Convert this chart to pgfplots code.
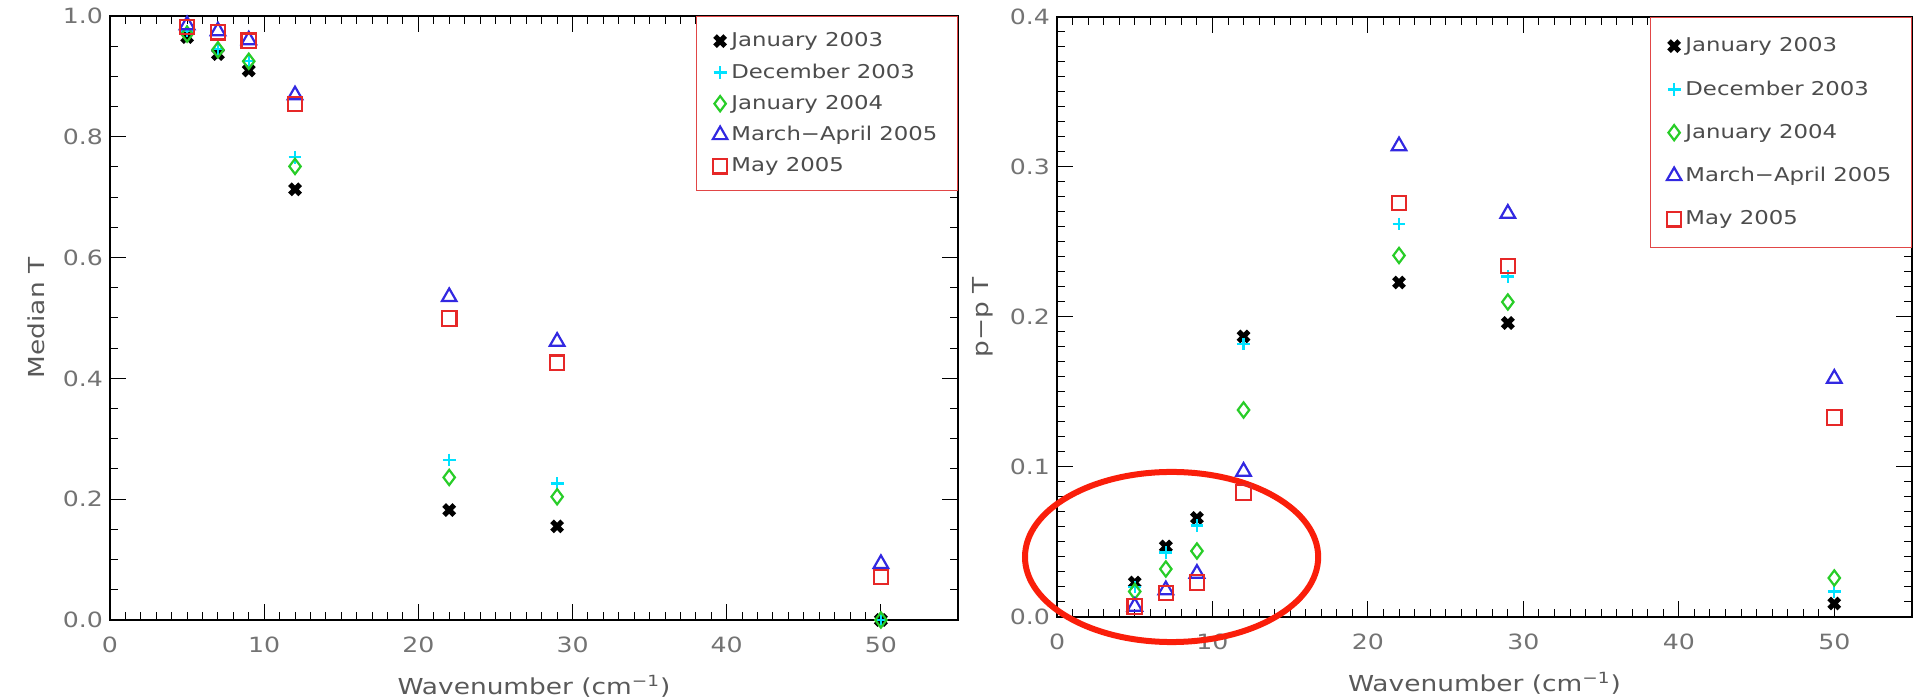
\documentclass[border=0pt]{standalone}
\usepackage{fontspec}
\setmainfont{DejaVu Sans}[FakeStretch=1.2]
\usepackage{pgfplots}
\usepackage{pgfplotstable}
\usetikzlibrary{calc}
\pgfplotsset{compat=1.18}
\definecolor{tick}{gray}{0.45}
\definecolor{lab}{gray}{0.35}
\definecolor{legt}{gray}{0.3}
\definecolor{cJa}{RGB}{0,0,0}
\definecolor{cDe}{RGB}{0,225,255}
\definecolor{cJb}{RGB}{40,205,40}
\definecolor{cMa}{RGB}{50,40,225}
\definecolor{cMy}{RGB}{230,40,40}
\definecolor{legbox}{RGB}{225,70,70}
\definecolor{ell}{RGB}{250,30,10}

\pgfplotstableread{
x  ja    de    jb    ma    my
5  0.965 0.975 0.970 0.985 0.982
7  0.937 0.945 0.944 0.975 0.973
9  0.910 0.925 0.925 0.960 0.959
12 0.713 0.766 0.751 0.869 0.854
22 0.182 0.265 0.236 0.535 0.499
29 0.155 0.226 0.204 0.461 0.426
50 0.000 0.000 0.000 0.093 0.071
}\median

\pgfplotstableread{
x  ja    de    jb    ma    my
5  0.023 0.020 0.017 0.007 0.007
7  0.047 0.043 0.032 0.018 0.016
9  0.066 0.061 0.044 0.029 0.023
12 0.187 0.182 0.138 0.097 0.083
22 0.223 0.262 0.241 0.314 0.276
29 0.196 0.227 0.210 0.269 0.234
50 0.009 0.017 0.026 0.159 0.133
}\pp

\begin{document}
\begin{tikzpicture}
\useasboundingbox (0,0) rectangle (957pt,349.5pt);
\pgfplotsset{
  common/.style={
    scale only axis,
    xmin=0, xmax=55,
    xtick={0,10,...,50},
    minor x tick num=9,
    tick align=inside,
    major tick length=8pt,
    minor tick length=4pt,
    axis line style={black, line width=0.6pt},
    tick style={black, line width=0.5pt},
    /pgf/number format/assume math mode=true,
    ticklabel style={font=\fontsize{10.5}{12}\selectfont, text=tick},
    xticklabel shift=5pt,
    label style={font=\fontsize{11}{13}\selectfont, text=lab},
    xlabel={Wavenumber (cm\textsuperscript{−1})},
    xlabel style={at={(axis description cs:0.5,0)}, anchor=north, yshift=-24pt},
    ylabel style={at={($(axis description cs:0,0.5)+(-37pt,0)$)}, anchor=center},
    only marks,
    clip=false,
    legend cell align=left,
    legend style={font=\fontsize{9.5}{11}\selectfont, text=legt, draw=legbox, line width=0.6pt,
      at={(1,1)}, anchor=north east, inner xsep=8pt, inner ysep=6pt, fill=white},
    yticklabel style={/pgf/number format/.cd, fixed, fixed zerofill, precision=1},
  },
  sJa/.style={mark=x, color=cJa, mark size=3.6pt, mark options={line width=2.6pt}},
  sDe/.style={mark=+, color=cDe, mark size=3.2pt, mark options={line width=1.1pt}},
  sJb/.style={mark=diamond, color=cJb, mark size=3.8pt, mark options={line width=1.1pt}},
  sMa/.style={mark=triangle, color=cMa, mark size=4.2pt, mark options={line width=1.1pt}},
  sMy/.style={mark=square, color=cMy, mark size=3.6pt, mark options={line width=1.1pt}},
}
\begin{axis}[common,
  at={(55pt,39.5pt)}, anchor=south west,
  width=424pt, height=302pt,
  ymin=0, ymax=1.0,
  ytick={0,0.2,...,1.0},
  minor y tick num=3,
  ylabel={Median T},
  legend style={row sep=3pt},
]
\addplot+[sJa] table[x=x,y=ja]{\median};
\addlegendentry{January 2003}
\addplot+[sDe] table[x=x,y=de]{\median};
\addlegendentry{December 2003}
\addplot+[sJb] table[x=x,y=jb]{\median};
\addlegendentry{January 2004}
\addplot+[sMa] table[x=x,y=ma]{\median};
\addlegendentry{March−April 2005}
\addplot+[sMy] table[x=x,y=my]{\median};
\addlegendentry{May 2005}
\end{axis}

\begin{axis}[common,
  at={(528.5pt,41pt)}, anchor=south west,
  width=427.5pt, height=300pt,
  ymin=0, ymax=0.4,
  ytick={0,0.1,...,0.4},
  minor y tick num=9,
  ylabel={p−p T},
  legend style={row sep=9pt, inner ysep=8pt},
]
\addplot+[sJa] table[x=x,y=ja]{\pp};
\addlegendentry{January 2003}
\addplot+[sDe] table[x=x,y=de]{\pp};
\addlegendentry{December 2003}
\addplot+[sJb] table[x=x,y=jb]{\pp};
\addlegendentry{January 2004}
\addplot+[sMa] table[x=x,y=ma]{\pp};
\addlegendentry{March−April 2005}
\addplot+[sMy] table[x=x,y=my]{\pp};
\addlegendentry{May 2005}
\draw[color=ell, line width=3pt] (axis cs:7.37,0.040) ellipse [x radius=9.43, y radius=0.0567];
\end{axis}
\end{tikzpicture}
\end{document}
